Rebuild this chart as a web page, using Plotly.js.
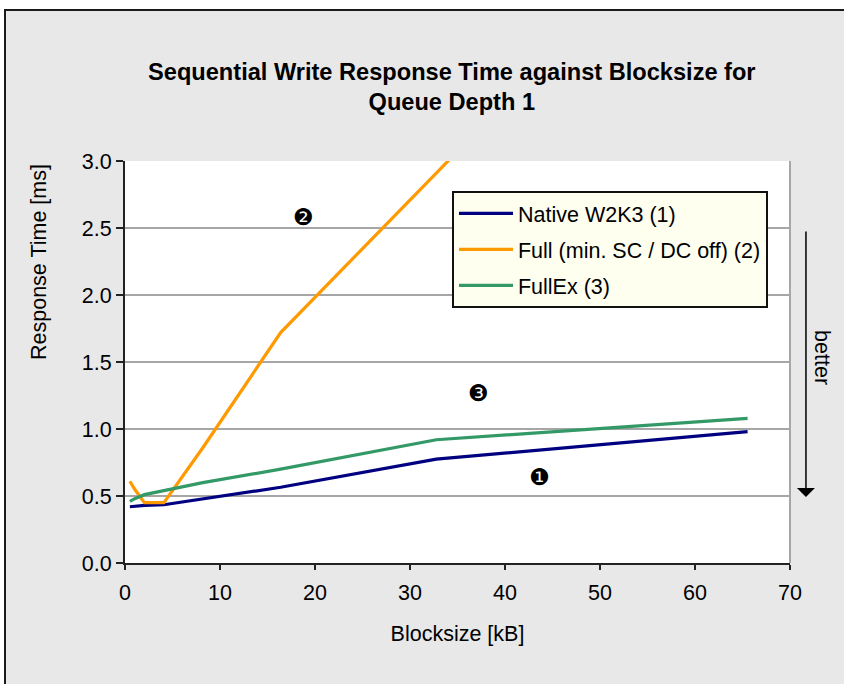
<!DOCTYPE html>
<html>
<head>
<meta charset="utf-8">
<script src="https://cdn.plot.ly/plotly-3.0.1.min.js"></script>
<style>
  html, body { margin: 0; padding: 0; background: #ffffff; overflow: hidden; width: 844px; height: 684px; }
  #frame { position: absolute; left: 4px; top: 9px; width: 844px; height: 684px;
           border-left: 2px solid #1a1a1a; border-top: 2px solid #1a1a1a; background: #e8e8e8; overflow: hidden; }
  #chart { width: 838px; height: 673px; }
</style>
</head>
<body>
<div id="frame"><div id="chart"></div></div>
<script>
// Blocksize in kB (KiB values expressed in kB)
const blocksize = [0.512, 1.024, 2.048, 4.096, 8.192, 16.384, 32.768, 65.536];
// Response time [ms]
const nativeW2K3 = [0.42, 0.425, 0.43, 0.435, 0.48, 0.565, 0.775, 0.98];
const fullMinSC  = [0.61, 0.55, 0.45, 0.45, 0.86, 1.72, 2.91, 5.3];
const fullEx     = [0.46, 0.48, 0.51, 0.54, 0.60, 0.70, 0.92, 1.08];
const seriesNames = ["Native W2K3 (1)", "Full (min. SC / DC off) (2)", "FullEx (3)"];
const seriesColors = ["#000080", "#FF9900", "#339966"];
// circled labels: [text, blocksize, response time]
const markLabels = [["❷", 18.84, 2.58], ["❸", 37.26, 1.27], ["❶", 43.6, 0.64]];
const xTicks = [0, 10, 20, 30, 40, 50, 60, 70];
const yTicks = [0, 0.5, 1.0, 1.5, 2.0, 2.5, 3.0];

const FONT = "Liberation Sans, Arial, sans-serif";
const FS = 21.5;
const series = [nativeW2K3, fullMinSC, fullEx];

const traces = series.map((ys, i) => ({
  x: blocksize, y: ys, type: "scatter", mode: "lines",
  name: seriesNames[i], legendgroup: "g" + i,
  line: { color: seriesColors[i], width: 3.2 }
}));

const annotations = markLabels.map(m => ({
  x: m[1], y: m[2], xref: "x", yref: "y", text: m[0], showarrow: false,
  xanchor: "center", yanchor: "middle",
  font: { family: "DejaVu Sans", size: 23, color: "#000" }
}));
annotations.push({
  xref: "paper", yref: "paper", x: -0.1293, y: 0.7488, text: "Response Time [ms]",
  xanchor: "center", yanchor: "middle",
  textangle: -90, showarrow: false, font: { family: FONT, size: FS, color: "#000" }
});
annotations.push({
  xref: "paper", yref: "paper", x: 1.024, y: (563 - 497) / 402,
  ax: 0, ay: -267, axref: "pixel", ayref: "pixel", text: "",
  showarrow: true, arrowhead: 1, arrowsize: 2, arrowwidth: 1.5, arrowcolor: "#000"
});
annotations.push({
  xref: "paper", yref: "paper", x: 1.048, y: (563 - 358) / 402, text: "better",
  xanchor: "center", yanchor: "middle",
  textangle: 90, showarrow: false, font: { family: FONT, size: FS, color: "#000" }
});

const layout = {
  width: 838, height: 673,
  margin: { l: 119, r: 54, t: 150, b: 121 },
  paper_bgcolor: "#e8e8e8", plot_bgcolor: "#ffffff",
  font: { family: FONT, size: FS, color: "#000" },
  title: {
    text: "<b>Sequential Write Response Time against Blocksize for<br>Queue Depth 1</b>",
    x: 0.532, xref: "container", xanchor: "center",
    y: 0.898, yref: "container", yanchor: "middle",
    font: { family: FONT, size: 23.6, color: "#000" }
  },
  xaxis: {
    range: [0, 70], tickvals: xTicks, ticktext: xTicks.map(String),
    showgrid: false, zeroline: false, showline: true, linecolor: "#222", linewidth: 2,
    ticks: "outside", ticklen: 5, tickwidth: 2, tickcolor: "#222",
    tickfont: { family: FONT, size: FS }, ticklabelstandoff: 4,
    title: { text: "Blocksize [kB]", standoff: 22, font: { family: FONT, size: FS } },
    fixedrange: true
  },
  yaxis: {
    range: [0, 3], tickvals: yTicks, ticktext: yTicks.map(v => v.toFixed(1)),
    showgrid: true, gridcolor: "#a6a6a6", gridwidth: 2, zeroline: false,
    showline: true, linecolor: "#222", linewidth: 2,
    ticks: "outside", ticklen: 7, tickwidth: 2, tickcolor: "#222",
    tickfont: { family: FONT, size: FS },
    fixedrange: true
  },
  shapes: [{
    type: "line", xref: "paper", yref: "paper", x0: 1, x1: 1, y0: 0, y1: 1,
    line: { color: "#a6a6a6", width: 2 }
  }],
  legend: {
    x: 0.4917, y: 0.9254, xanchor: "left", yanchor: "top",
    bgcolor: "#FFFFF0", bordercolor: "#111", borderwidth: 2,
    font: { family: FONT, size: FS, color: "#000" },
    traceorder: "grouped", tracegroupgap: 5, itemwidth: 54
  },
  showlegend: true,
  annotations: annotations
};

Plotly.newPlot("chart", traces, layout, { displayModeBar: false, staticPlot: true });
</script>
</body>
</html>
